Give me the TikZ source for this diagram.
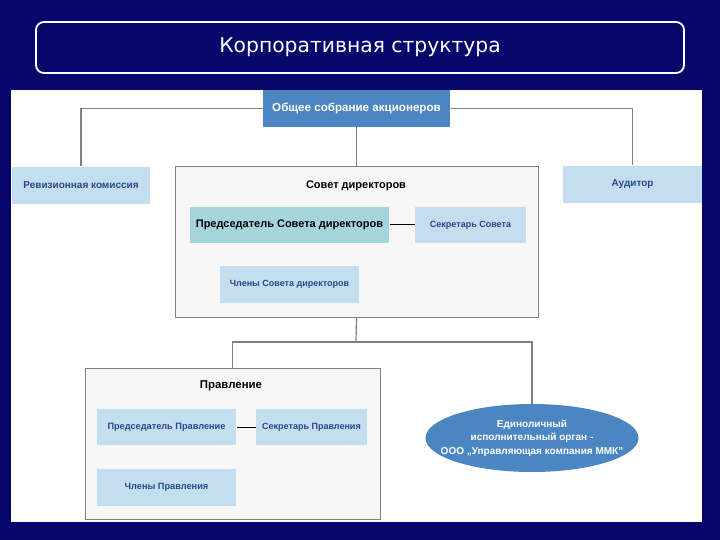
\documentclass[tikz,border=0pt]{standalone}
\usepackage{fontspec}
\setmainfont{Liberation Sans}
\newfontfamily\titlefont{DejaVu Sans}
\usetikzlibrary{shapes.geometric,positioning}
\definecolor{navy}{RGB}{6,6,108}
\definecolor{steelblue}{RGB}{76,134,194}
\definecolor{paleblue}{RGB}{196,222,240}
\definecolor{paleteal}{RGB}{164,212,220}
\definecolor{inkblue}{RGB}{40,72,138}
\definecolor{wiregray}{RGB}{128,128,128}
\definecolor{panelgray}{RGB}{247,247,247}

\begin{document}
\begin{tikzpicture}[
    x=1pt, y=-1pt,
    font=\bfseries\fontsize{9}{10.5}\selectfont,
    line width=1pt,
    unit/.style={fill=paleblue, text=inkblue, inner sep=0pt, align=center},
    body/.style={fill=panelgray, draw=wiregray, line width=0.8pt, inner sep=0pt},
    link/.style={draw=wiregray, line width=1.2pt}
  ]
  % background and panel
  \useasboundingbox (0,0) rectangle (720,540);
  \fill[navy] (0,0) rectangle (720,540);
  \fill[white] (11,90) rectangle (702,522);

  % title
  \node[draw=white, line width=1.8pt, rounded corners=8pt,
        minimum width=648pt, minimum height=51pt, text=white,
        font=\titlefont\fontsize{20.3}{24}\selectfont] (title) at (360,47.5)
        {Корпоративная структура};

  % top level
  \node[unit, fill=steelblue, text=white, minimum width=187pt, minimum height=37pt,
        font=\bfseries\fontsize{11.6}{13}\selectfont] (meeting) at (356.5,108.5)
        {Общее собрание акционеров};
  \node[unit, minimum width=138pt, minimum height=37pt,
        font=\bfseries\fontsize{10}{12}\selectfont] (audit) at (81,185.5)
        {Ревизионная комиссия};
  \node[unit, minimum width=139pt, minimum height=37pt,
        font=\bfseries\fontsize{10}{12}\selectfont] (auditor) at (632.5,184.5)
        {Аудитор};

  % board of directors
  \node[body, minimum width=363pt, minimum height=151pt] (board) at (356.5,241.5) {};
  \node[font=\bfseries\fontsize{11}{13}\selectfont] (boardtitle) at (356,186)
        {Совет директоров};
  \node[unit, fill=paleteal, text=black, minimum width=199pt, minimum height=36pt,
        font=\bfseries\fontsize{11}{13}\selectfont] (boardchair) at (289.5,225)
        {Председатель Совета директоров};
  \node[unit, minimum width=111pt, minimum height=36pt] (boardsecr) at (470.5,225)
        {Секретарь Совета};
  \node[unit, minimum width=139pt, minimum height=37pt] (boardmembers) at (289.5,284.5)
        {Члены Совета директоров};

  % management board
  \node[body, minimum width=295pt, minimum height=151pt] (mgmt) at (232.5,443.5) {};
  \node[font=\bfseries\fontsize{11.4}{13}\selectfont] (mgmttitle) at (231,386)
        {Правление};
  \node[unit, minimum width=139pt, minimum height=36pt,
        font=\bfseries\fontsize{9.2}{11}\selectfont] (mgmtchair) at (166.5,427)
        {Председатель Правление};
  \node[unit, minimum width=111pt, minimum height=36pt] (mgmtsecr) at (311.5,427)
        {Секретарь Правления};
  \node[unit, minimum width=139pt, minimum height=37pt,
        font=\bfseries\fontsize{9.2}{11}\selectfont] (mgmtmembers) at (166.5,487.5)
        {Члены Правления};

  % sole executive body
  \node[ellipse, fill=steelblue, text=white, minimum width=213pt, minimum height=68pt,
        inner xsep=-24pt, inner ysep=-10pt, align=center,
        font=\bfseries\fontsize{10}{13.5}\selectfont] (ceo) at (532,438)
        {Единоличный\\исполнительный орган -\\ООО „Управляющая компания ММК”};

  % connectors
  \coordinate (fork) at (356,342);
  \draw[link] (meeting.west) -| (audit.north);
  \draw[link] (meeting.east) -| (auditor.north);
  \draw[link] (meeting.south) -- (board.north);
  \draw[link] (board.south) -- (fork);
  \draw[link] (fork) -| (mgmt.north);
  \draw[link] (fork) -| (ceo.north);
  \draw (boardchair) -- (boardsecr);
  \draw (mgmtchair) -- (mgmtsecr);
\end{tikzpicture}
\end{document}
